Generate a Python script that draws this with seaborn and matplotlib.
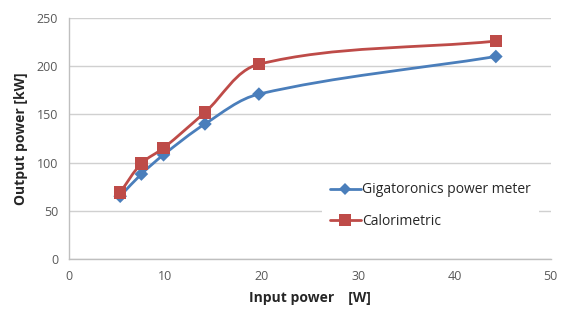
import numpy as np
import pandas as pd
import seaborn as sns
import matplotlib.pyplot as plt
from matplotlib.path import Path
from matplotlib.patches import PathPatch
from matplotlib.lines import Line2D

input_power = [5.3, 7.5, 9.8, 14.1, 19.7, 44.3]
gigatoronics = [65, 88, 108, 140, 171, 210]
calorimetric = [69, 99, 115, 152, 202, 226]

series_names = ["Gigatoronics power meter", "Calorimetric"]
series_colors = ["#4a7ebb", "#be4b48"]
series_markers = ["D", "s"]

XMAX, YMAX = 50, 250


def smooth_path(xs, ys, sx, sy):
    """Bezier path through the points, tangents worked out in screen-like units."""
    pts = np.column_stack([np.asarray(xs) * sx, np.asarray(ys) * sy]).astype(float)
    n = len(pts)
    tang = np.zeros_like(pts)
    for i in range(n):
        a = pts[max(i - 1, 0)]
        b = pts[min(i + 1, n - 1)]
        d = b - a
        tang[i] = d / np.hypot(*d)
    verts = [pts[0]]
    codes = [Path.MOVETO]
    for i in range(n - 1):
        seg = np.hypot(*(pts[i + 1] - pts[i]))
        c1 = pts[i] + tang[i] * seg / 3.0
        c2 = pts[i + 1] - tang[i + 1] * seg / 3.0
        verts += [c1, c2, pts[i + 1]]
        codes += [Path.CURVE4] * 3
    verts = np.array(verts)
    verts[:, 0] /= sx
    verts[:, 1] /= sy
    return Path(verts, codes)


sns.set_theme(style="white")
plt.rcParams['font.family'] = ['Open Sans', 'DejaVu Sans']

df = pd.DataFrame({
    "x": input_power * 2,
    "y": gigatoronics + calorimetric,
    "series": [series_names[0]] * len(input_power) + [series_names[1]] * len(input_power),
})

fig, ax = plt.subplots(figsize=(5.62, 3.10), dpi=100)
fig.subplots_adjust(left=0.123, right=0.98, top=0.942, bottom=0.165)

# axes size in pixels, so the smoothing follows what is seen on screen
bbox = ax.get_position()
sx = bbox.width * 562 / XMAX
sy = bbox.height * 310 / YMAX

for name, ys, col in zip(series_names, [gigatoronics, calorimetric], series_colors):
    ax.add_patch(PathPatch(smooth_path(input_power, ys, sx, sy), facecolor="none",
                           edgecolor=col, lw=2, zorder=3))

sns.scatterplot(data=df, x="x", y="y", hue="series", style="series",
                palette=series_colors, markers=series_markers,
                s=[48] * len(input_power) + [80] * len(input_power),
                edgecolor="none", legend=False, zorder=4, ax=ax)

ax.set_xlim(0, XMAX)
ax.set_ylim(0, YMAX)
ax.set_xticks(range(0, 51, 10))
ax.set_yticks(range(0, 251, 50))
ax.yaxis.grid(True, color="#d0d0d0", lw=1)
ax.set_axisbelow(True)
for s in ["top", "right"]:
    ax.spines[s].set_visible(False)
for s in ["left", "bottom"]:
    ax.spines[s].set_color("#bfbfbf")
    ax.spines[s].set_linewidth(1)
ax.tick_params(axis="both", length=0, labelsize=9, colors="#595959", pad=8)

ax.set_xlabel("Input power\u2002\u2002[W]", fontsize=10, fontweight="bold", color="#262626", labelpad=6)
ax.set_ylabel("Output power [kW]", fontsize=10, fontweight="bold", color="#262626", labelpad=6)

handles = [Line2D([0], [0], color=c, lw=2, marker=m, markersize=ms, markeredgewidth=0)
           for c, m, ms in zip(series_colors, series_markers, [6, 8.5])]
leg = ax.legend(handles, series_names, loc="lower left", bbox_to_anchor=(0.51, 0.06),
                frameon=True, fontsize=10, handlelength=2.2, handletextpad=0.1,
                labelspacing=1.2, borderpad=0.6)
leg.get_frame().set_facecolor("white")
leg.get_frame().set_edgecolor("none")
leg.get_frame().set_alpha(1)
leg.set_zorder(5)
for t in leg.get_texts():
    t.set_color("#262626")

fig.savefig("out.png", dpi=100)
